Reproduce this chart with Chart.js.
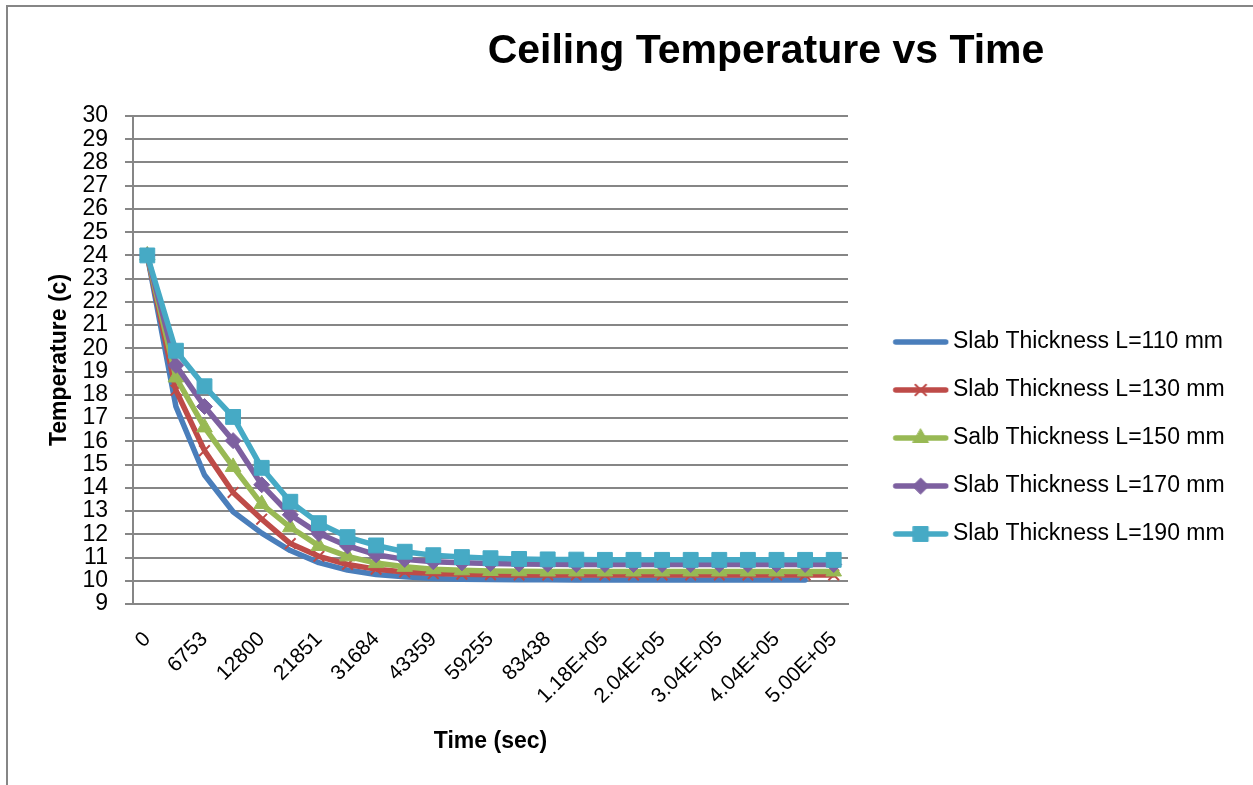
<!DOCTYPE html>
<html>
<head>
<meta charset="utf-8">
<script src="https://cdn.jsdelivr.net/npm/chart.js@4.4.1/dist/chart.umd.min.js"></script>
<style>
html,body{margin:0;padding:0;background:#ffffff;overflow:hidden;}
#wrap{position:relative;width:1253px;height:785px;overflow:hidden;}
#frame{position:absolute;left:6px;top:5px;width:1400px;height:900px;border-left:2px solid #868686;border-top:2px solid #868686;pointer-events:none;}
canvas{position:absolute;left:0;top:0;}
</style>
</head>
<body>
<div id="wrap"><canvas id="c" width="1253" height="785"></canvas><div id="frame"></div></div>
<script>
// ---- data ----
const categories = ['0','','6753','','12800','','21851','','31684','','43359','','59255','','83438','','1.18E+05','','2.04E+05','','3.04E+05','','4.04E+05','','5.00E+05'];
const seriesNames = ['Slab Thickness L=110 mm','Slab Thickness L=130 mm','Salb Thickness L=150 mm','Slab Thickness L=170 mm','Slab Thickness L=190 mm'];
const slab110 = [24,17.5,14.55,12.97,12.05,11.3,10.78,10.46,10.27,10.17,10.1,10.07,10.05,10.04,10.04,10.03,10.03,10.03,10.03,10.03,10.03,10.03,10.03,10.03,null];
const slab130 = [24,18.2,15.6,13.8,12.65,11.6,11.05,10.7,10.5,10.38,10.31,10.28,10.26,10.25,10.25,10.25,10.25,10.25,10.25,10.25,10.25,10.25,10.25,10.25,10.25];
const slab150 = [24,18.75,16.6,14.9,13.3,12.3,11.5,11.05,10.76,10.6,10.5,10.45,10.42,10.41,10.4,10.4,10.4,10.4,10.4,10.4,10.4,10.4,10.4,10.4,10.4];
const slab170 = [24,19.27,17.5,16.03,14.13,12.84,12.03,11.5,11.12,10.92,10.82,10.77,10.74,10.72,10.71,10.7,10.7,10.7,10.7,10.7,10.7,10.7,10.7,10.7,10.7];
const slab190 = [24,19.9,18.37,17.05,14.86,13.4,12.48,11.88,11.52,11.25,11.1,11.02,10.97,10.94,10.92,10.91,10.9,10.9,10.9,10.9,10.9,10.9,10.9,10.9,10.9];
const yMin = 9, yMax = 30;

// ---- styles ----
const colors = ['#4A7EBB','#BE4B48','#98B954','#7D60A0','#46AAC5'];
const markers = [
  {style:false, radius:0, bw:0},
  {style:'crossRot', radius:7.5, bw:2},
  {style:'triangle', radius:9, bw:1},
  {style:'rectRot', radius:8, bw:1},
  {style:'rect', radius:10.5, bw:1}
];
const LINE_W = 5.5;
const FONT = "'Liberation Sans', Arial, sans-serif";
Chart.defaults.font.family = FONT;
Chart.defaults.color = '#000000';

const LEG_PAD = 25, LEG_BOX = 68.5;
function legendImage(i){
  const W = 84, H = 26;
  const cv = document.createElement('canvas');
  cv.width = W; cv.height = H;
  const ctx = cv.getContext('2d');
  ctx.strokeStyle = colors[i];
  ctx.lineWidth = LINE_W;
  ctx.lineCap = 'round';
  ctx.beginPath();
  ctx.moveTo(30.5, H/2);
  ctx.lineTo(80.5, H/2);
  ctx.stroke();
  const m = markers[i];
  if (m.style) {
    ctx.fillStyle = colors[i];
    ctx.strokeStyle = colors[i];
    ctx.lineWidth = m.bw;
    Chart.helpers.drawPoint(ctx, {pointStyle:m.style, radius:m.radius, rotation:0, borderWidth:m.bw}, 55.5, H/2);
  }
  return cv;
}

const allData = [slab110, slab130, slab150, slab170, slab190];
const datasets = allData.map((d, i) => ({
  label: seriesNames[i],
  data: d,
  borderColor: colors[i],
  backgroundColor: colors[i],
  borderWidth: LINE_W,
  borderJoinStyle: 'round',
  borderCapStyle: 'round',
  tension: 0,
  pointStyle: markers[i].style || 'circle',
  pointRadius: markers[i].radius,
  pointHoverRadius: markers[i].radius,
  pointBorderWidth: markers[i].bw,
  pointBackgroundColor: colors[i],
  pointBorderColor: colors[i],
  order: 5 - i,
  spanGaps: false
}));

const layoutFix = {
  id: 'layoutFix',
  afterLayout(chart) {
    const t = chart.titleBlock;
    if (t) {
      const want = 766;
      const cur = (t.left + t.right) / 2;
      const dx = want - cur;
      t.left += dx; t.right += dx;
    }
    const lg = chart.legend;
    if (lg) {
      lg.top = chart.chartArea.top;
      lg.height = lg.bottom - lg.top;
    }
  }
};

new Chart(document.getElementById('c'), {
  type: 'line',
  data: { labels: categories, datasets: datasets },
  plugins: [layoutFix],
  options: {
    responsive: false,
    animation: false,
    layout: { padding: { left: 8, top: 8, right: 20, bottom: 25 } },
    plugins: {
      tooltip: { enabled: false },
      title: {
        display: true,
        text: 'Ceiling Temperature vs Time',
        font: { size: 41, weight: 'bold', family: FONT, lineHeight: 1.2 },
        color: '#000000',
        padding: { top: 19.5, bottom: 39.3 }
      },
      legend: {
        display: true,
        position: 'right',
        align: 'center',
        maxWidth: 385,
        labels: {
          font: { size: 23, family: FONT },
          color: '#000000',
          padding: LEG_PAD,
          usePointStyle: true,
          pointStyleWidth: LEG_BOX,
          boxHeight: 23,
          generateLabels(chart) {
            return chart.data.datasets.map((ds, i) => ({
              text: ds.label,
              pointStyle: legendImage(i),
              fillStyle: colors[i],
              strokeStyle: colors[i],
              lineWidth: 0,
              hidden: false,
              datasetIndex: i,
              fontColor: '#000000'
            }));
          }
        }
      }
    },
    scales: {
      x: {
        type: 'category',
        offset: true,
        grid: { display: false, drawTicks: false },
        border: { display: true, color: '#868686', width: 2 },
        ticks: {
          autoSkip: false,
          maxRotation: 45,
          minRotation: 45,
          padding: 23,
          font: { size: 21, family: FONT },
          color: '#000000'
        },
        title: {
          display: true,
          text: 'Time (sec)',
          font: { size: 23, weight: 'bold', family: FONT },
          color: '#000000',
          padding: { top: 0, bottom: 5 }
        },
        afterFit(scale) { scale.height = 156; }
      },
      y: {
        min: yMin,
        max: yMax,
        ticks: {
          stepSize: 1,
          autoSkip: false,
          padding: 17,
          font: { size: 23, family: FONT },
          color: '#000000'
        },
        grid: { color: '#868686', lineWidth: 2, tickLength: 8, tickColor: '#868686', tickWidth: 2, drawTicks: true },
        border: { display: true, color: '#868686', width: 2 },
        title: {
          display: true,
          text: 'Temperature (c)',
          font: { size: 23, weight: 'bold', family: FONT },
          color: '#000000',
          padding: { top: 38, bottom: 0 }
        },
        afterFit(scale) { scale.width = 125; }
      }
    }
  }
});
</script>
</body>
</html>
